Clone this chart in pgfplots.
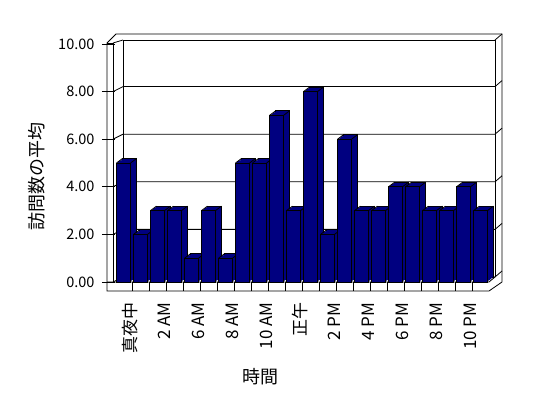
\documentclass[border=0pt]{standalone}
\usepackage{pgfplots}
\pgfplotsset{compat=1.18}
\usepackage{pgfplotstable}
\usepackage{fontspec}
\setmainfont{Noto Sans CJK JP}
\definecolor{navy}{RGB}{0,0,128}
\pgfplotstableread{
h v
0 5
1 2
2 3
3 3
4 1
5 3
6 1
7 5
8 5
9 7
10 3
11 8
12 2
13 6
14 3
15 3
16 4
17 4
18 3
19 3
20 4
21 3
}\visits
\begin{document}
\begin{tikzpicture}
\path[use as bounding box] (0,0) rectangle (548pt,398pt);
% frame (walls and floor), pixel coordinates, y downward
\begin{scope}[x=1pt,y=-1pt,yshift=398pt,line width=0.8pt]
\draw (107,43)--(107,291)--(489,291)--(502,282)--(502,34)--(116,34)--cycle;
\draw (107,43)--(113,43)--(113,282);
\draw (113,43)--(123,40);
\draw (123,277)--(123,40)--(495,40)--(495,277);
\draw (495,40)--(502,34);
\draw (107,282)--(489,282)--(495,277);
\foreach \k in {1,...,21} \draw ({115+17*\k},282)--({115+17*\k},291);
\foreach \k in {0,...,4} {
  \draw (113,{282-47.6*\k})--(123,{277-47.6*\k})--(495,{277-47.6*\k})--(502,{271-47.6*\k});
}
\end{scope}
\begin{axis}[
  at={(115pt,116pt)}, anchor=south west,
  scale only axis, width=374pt, height=238pt,
  xmin=-0.5, xmax=21.5, ymin=0, ymax=10,
  clip=false,
  axis x line*=bottom, axis y line*=left,
  axis line style={draw=none},
  tick align=outside,
  ytick={0,2,...,10},
  major tick length=13pt,
  ytick style={black, line width=0.8pt},
  yticklabel style={font=\fontsize{14.5}{16}\selectfont, xshift=-4pt,
    /pgf/number format/.cd, fixed, fixed zerofill, precision=2, assume math mode=true},
  xtick={0,2,...,20},
  xticklabels={真夜中,2 AM,6 AM,8 AM,10 AM,正午,2 PM,4 PM,6 PM,8 PM,10 PM},
  xtick style={draw=none},
  xticklabel style={rotate=90, anchor=east, font=\fontsize{17}{19}\selectfont, xshift=-4pt, yshift=-7pt},
  xlabel={時間},
  ylabel={訪問数の平均},
  label style={font=\fontsize{18}{20}\selectfont},
  xlabel style={at={(axis description cs:0.388,-0.399)}, anchor=center},
  ylabel style={at={(axis description cs:-0.2086,0.445)}, anchor=center},
  barstyle/.style={ybar, bar width=14pt, fill=navy, line width=0.8pt},
]
% back face (depth)
\addplot[barstyle, draw=black, bar shift=6pt, yshift=4.5pt] table[x=h, y=v] {\visits};
% fill of top and side faces
\addplot[barstyle, draw=none, bar shift=4.8pt, yshift=3.6pt] table[x=h, y=v] {\visits};
\addplot[barstyle, draw=none, bar shift=3.6pt, yshift=2.7pt] table[x=h, y=v] {\visits};
\addplot[barstyle, draw=none, bar shift=2.4pt, yshift=1.8pt] table[x=h, y=v] {\visits};
\addplot[barstyle, draw=none, bar shift=1.2pt, yshift=0.9pt] table[x=h, y=v] {\visits};
% depth edges
\addplot[quiver={u=0.353, v=0.189}, draw=black, line width=0.8pt] table[x expr=\thisrow{h}-0.412, y=v] {\visits};
\addplot[quiver={u=0.353, v=0.189}, draw=black, line width=0.8pt] table[x expr=\thisrow{h}+0.412, y=v] {\visits};
% front face
\addplot[barstyle, draw=black, bar shift=0pt] table[x=h, y=v] {\visits};
\end{axis}
\end{tikzpicture}
\end{document}
